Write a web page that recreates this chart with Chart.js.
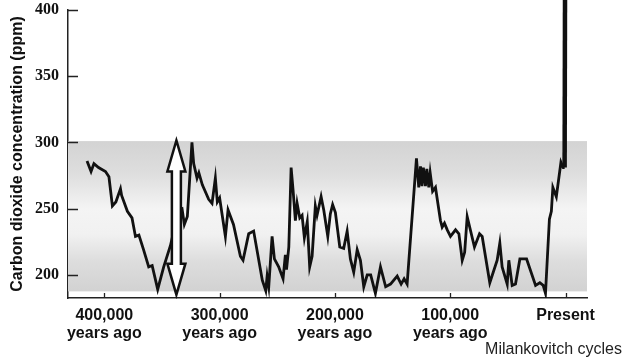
<!DOCTYPE html>
<html>
<head>
<meta charset="utf-8">
<script src="https://cdn.jsdelivr.net/npm/chart.js@4.4.0/dist/chart.umd.min.js"></script>
<style>
  html, body { margin: 0; padding: 0; background: #fff; }
  #wrap { width: 633px; height: 360px; }
</style>
</head>
<body>
<div id="wrap"><canvas id="co2Chart"></canvas></div>
<script>
// years before present
const yearsAgo = [
  415000, 411500, 409000, 405000, 399000, 396000, 393000, 390000, 386000, 385000,
  380000, 376000, 373000, 370000, 366000, 361500, 358500, 353700, 348500, 342700,
  335500, 332600, 330600, 328000, 324000, 322500, 319600, 318000, 315000, 309500,
  306600, 303700, 302000, 300000, 295000, 292700, 288000, 282000, 279700, 274800,
  270500, 263000, 260000, 258800, 257400, 254500, 252500, 248800, 245000, 243000,
  242000, 240000, 238000, 236300, 234300, 232800, 230500, 228500, 226500, 224000,
  221900, 219800, 217000, 215500, 212000, 209700, 206200, 204000, 202000, 199600,
  195800, 192400, 189400, 186600, 183700, 180700, 177900, 175000, 172000, 169000,
  164900, 160500, 156000, 151800, 146000, 142600, 140000, 137400, 129300, 127300,
  125800, 124500, 123300, 121500, 120300, 118600, 117400, 115300, 112800, 108500,
  107000, 105000, 102600, 99800, 95400, 92500, 89600, 87500, 85300, 79000,
  74600, 72300, 65700, 59300, 57000, 55000, 50600, 49200, 46300, 43400,
  39600, 33800, 26000, 22300, 19400, 17400, 14000, 12300, 11000, 8000,
  4000, 2000, 800
];
// CO2 in ppm, same order
const co2 = [
  286, 278, 284, 281, 278, 274, 252, 255, 265, 260,
  248, 243, 229, 230, 219, 206, 207, 189, 206, 222,
  249, 250, 238, 244, 300, 284, 273, 277, 268, 257,
  254, 273, 255, 258, 229, 249, 238, 214, 211, 231,
  233, 196, 188, 199, 191, 229, 212, 206, 197, 215,
  204, 221, 281, 264, 241, 254, 243, 245, 228, 240,
  206, 214, 252, 245, 259, 249, 229, 246, 253, 247,
  221, 220, 233, 212, 202, 219, 211, 191, 200, 200,
  186, 206, 191, 193, 199, 193, 197, 193, 288, 266,
  282, 267, 281, 267, 280, 266, 277, 263, 266, 241,
  236, 239, 234, 229, 234, 231, 211, 217, 244, 221,
  231, 229, 194, 211, 224, 206, 193, 211, 192, 193,
  212, 212, 192, 194, 192, 186, 242, 248, 266, 259,
  285, 281, 281
];
// modern rise, runs off the top of the chart
const spikeYears = [800, 400];
const spikeCo2 = [281, 440];

const xTickValues = [400000, 300000, 200000, 100000, 0];
const xTickLabels = [
  ['400,000', 'years ago'],
  ['300,000', 'years ago'],
  ['200,000', 'years ago'],
  ['100,000', 'years ago'],
  ['Present']
];
const yTickValues = [200, 250, 300, 350, 400];

// shaded natural range and the double arrow
const bandTop = 301;
const bandBottom = 187.5;
const arrowYear = 337500;
const arrowTop = 301.5;
const arrowBottom = 185;

const footNote = 'Milankovitch cycles';

const extras = {
  id: 'extras',
  beforeDatasetsDraw(chart) {
    const { ctx, chartArea: a, scales: { y } } = chart;
    const top = y.getPixelForValue(bandTop);
    const bot = y.getPixelForValue(bandBottom);
    const g = ctx.createLinearGradient(0, top, 0, bot);
    g.addColorStop(0, '#d3d3d3');
    g.addColorStop(0.22, '#dedede');
    g.addColorStop(0.45, '#f4f4f4');
    g.addColorStop(0.62, '#f1f1f1');
    g.addColorStop(0.8, '#dddddd');
    g.addColorStop(1, '#d2d2d2');
    ctx.save();
    ctx.fillStyle = g;
    ctx.fillRect(a.left, top, a.right - a.left, bot - top);
    ctx.restore();
  },
  afterDatasetsDraw(chart) {
    const { ctx, chartArea: a, scales: { x, y } } = chart;
    ctx.save();
    // double-headed hollow arrow
    const cx = x.getPixelForValue(arrowYear);
    const yt = y.getPixelForValue(arrowTop);
    const yb = y.getPixelForValue(arrowBottom);
    const hw = 9, sw = 4.5, hl = 31;
    ctx.beginPath();
    ctx.moveTo(cx, yt);
    ctx.lineTo(cx + hw, yt + hl);
    ctx.lineTo(cx + sw, yt + hl);
    ctx.lineTo(cx + sw, yb - hl);
    ctx.lineTo(cx + hw, yb - hl);
    ctx.lineTo(cx, yb);
    ctx.lineTo(cx - hw, yb - hl);
    ctx.lineTo(cx - sw, yb - hl);
    ctx.lineTo(cx - sw, yt + hl);
    ctx.lineTo(cx - hw, yt + hl);
    ctx.closePath();
    ctx.fillStyle = '#fff';
    ctx.fill();
    ctx.lineWidth = 2.5;
    ctx.lineJoin = 'miter';
    ctx.strokeStyle = '#111';
    ctx.stroke();

    // inward tick marks
    ctx.lineWidth = 1.3;
    ctx.strokeStyle = '#222';
    ctx.beginPath();
    yTickValues.forEach(v => {
      const py = Math.round(y.getPixelForValue(v)) + 0.5;
      ctx.moveTo(a.left, py);
      ctx.lineTo(a.left + 10, py);
    });
    xTickValues.forEach(v => {
      const px = Math.round(x.getPixelForValue(v)) + 0.5;
      ctx.moveTo(px, a.bottom);
      ctx.lineTo(px, a.bottom - 5);
    });
    ctx.stroke();
    ctx.restore();
  },
  afterDraw(chart) {
    const { ctx } = chart;
    ctx.save();
    ctx.font = '16px "Liberation Sans", Arial, sans-serif';
    ctx.fillStyle = '#222';
    ctx.textAlign = 'right';
    ctx.textBaseline = 'middle';
    ctx.fillText(footNote, 622, 350);
    ctx.restore();
  }
};

new Chart(document.getElementById('co2Chart'), {
  type: 'line',
  data: {
    datasets: [
      {
        data: yearsAgo.map((t, i) => ({ x: t, y: co2[i] })),
        borderColor: '#111',
        borderWidth: 2.8,
        pointRadius: 0,
        tension: 0,
        fill: false
      },
      {
        data: spikeYears.map((t, i) => ({ x: t, y: spikeCo2[i] })),
        borderColor: '#111',
        borderWidth: 4.5,
        pointRadius: 0,
        clip: false,
        fill: false
      }
    ]
  },
  options: {
    responsive: true,
    maintainAspectRatio: false,
    animation: false,
    layout: { padding: { top: 10, right: 46, left: 0, bottom: 0 } },
    plugins: {
      legend: { display: false },
      tooltip: { enabled: false }
    },
    scales: {
      x: {
        type: 'linear',
        reverse: true,
        min: -18600,
        max: 431500,
        afterBuildTicks: s => { s.ticks = xTickValues.map(v => ({ value: v })); },
        afterFit: s => { s.height = 62; },
        grid: { display: false, drawTicks: false },
        border: { display: true, color: '#222', width: 1.5 },
        ticks: {
          autoSkip: false,
          maxRotation: 0,
          padding: 8,
          color: '#111',
          font: { family: '"Liberation Sans", Arial, sans-serif', size: 16, weight: 'bold', lineHeight: 1.15 },
          callback: v => xTickLabels[xTickValues.indexOf(v)]
        }
      },
      y: {
        min: 182.5,
        max: 400,
        afterBuildTicks: s => { s.ticks = yTickValues.map(v => ({ value: v })); },
        afterFit: s => { s.width = 68; s.paddingTop = 0; s.paddingBottom = 0; },
        grid: { display: false, drawTicks: false },
        border: { display: true, color: '#222', width: 1.5 },
        ticks: {
          padding: 9,
          color: '#111',
          font: { family: '"Liberation Serif", "Times New Roman", serif', size: 16, weight: 'bold' }
        },
        title: {
          display: true,
          text: 'Carbon dioxide concentration (ppm)',
          color: '#111',
          padding: { top: 8, bottom: 0 },
          font: { family: '"Liberation Sans", Arial, sans-serif', size: 16, weight: 'bold' }
        }
      }
    }
  },
  plugins: [extras]
});
</script>
</body>
</html>
